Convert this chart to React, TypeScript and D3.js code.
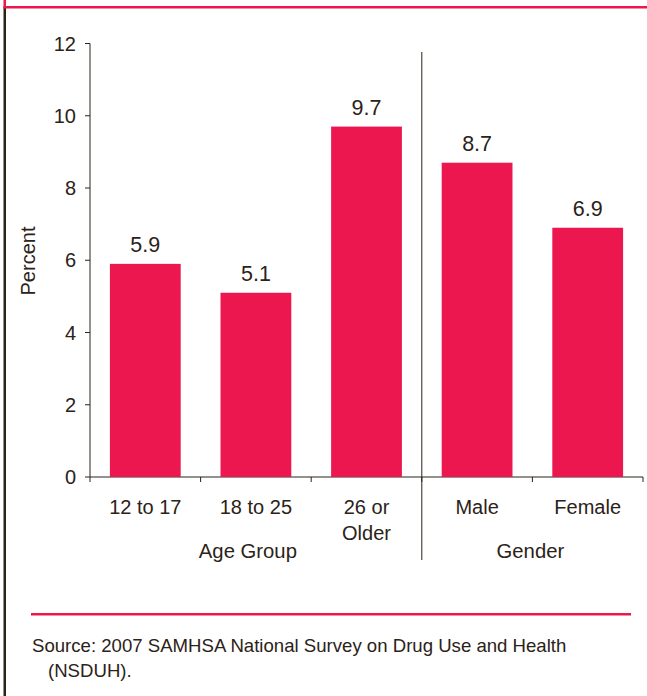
import React, { useEffect, useRef } from "react";
import * as d3 from "d3";

const categories = ["12 to 17", "18 to 25", "26 or\nOlder", "Male", "Female"];
const values = [5.9, 5.1, 9.7, 8.7, 6.9];
const yTicks = [0, 2, 4, 6, 8, 10, 12];
const groups = [
  { name: "Age Group", from: 0, to: 3, shift: -8 },
  { name: "Gender", from: 3, to: 5, shift: -2 },
];
const sourceLines = [
  "Source: 2007 SAMHSA National Survey on Drug Use and Health",
  "(NSDUH).",
];

const W = 647;
const H = 696;
const PINK = "#ec174f";
const INK = "#2b2218";
const FONT = "'Liberation Sans', Arial, Helvetica, sans-serif";

export default function App() {
  const ref = useRef<SVGSVGElement>(null);

  useEffect(() => {
    const svg = d3.select(ref.current);
    svg.selectAll("*").remove();

    const x0 = 90, x1 = 643;
    const y = d3.scaleLinear().domain([0, 12]).range([477, 43.5]);
    const x = d3
      .scaleBand<number>()
      .domain(d3.range(categories.length))
      .range([x0, x1])
      .paddingInner(0.36)
      .paddingOuter(0.18);
    const step = (x1 - x0) / categories.length;
    const edge = (i: number) => x0 + i * step;

    // frame
    svg.append("rect").attr("x", 3.5).attr("y", 7).attr("width", 2.5).attr("height", H - 7).attr("fill", INK);
    svg.append("rect").attr("x", 3.5).attr("y", 0).attr("width", 2.5).attr("height", 8).attr("fill", PINK);
    svg.append("rect").attr("x", 3.5).attr("y", 6).attr("width", W - 3.5).attr("height", 2.5).attr("fill", PINK);

    // y axis
    const g = svg.append("g").attr("stroke", INK).attr("stroke-width", 1);
    g.append("line").attr("x1", x0).attr("x2", x0).attr("y1", y(12)).attr("y2", y(0));
    yTicks.forEach((t) => {
      g.append("line").attr("x1", x0 - 5).attr("x2", x0).attr("y1", y(t)).attr("y2", y(t));
    });
    svg
      .append("g")
      .selectAll("text")
      .data(yTicks)
      .join("text")
      .attr("x", 76)
      .attr("y", (d) => y(d))
      .attr("dy", "0.35em")
      .attr("text-anchor", "end")
      .attr("font-size", 20)
      .attr("fill", INK)
      .attr("font-family", FONT)
      .text((d) => d);

    svg
      .append("text")
      .attr("transform", `translate(35,261) rotate(-90)`)
      .attr("text-anchor", "middle")
      .attr("font-size", 20)
      .attr("fill", INK)
      .attr("font-family", FONT)
      .text("Percent");

    // x axis
    g.append("line").attr("x1", x0).attr("x2", x1).attr("y1", y(0)).attr("y2", y(0));
    d3.range(categories.length + 1).forEach((i) => {
      g.append("line").attr("x1", edge(i)).attr("x2", edge(i)).attr("y1", y(0)).attr("y2", y(0) + 5);
    });

    // group divider
    g.append("line").attr("x1", edge(3)).attr("x2", edge(3)).attr("y1", 52).attr("y2", 560);

    // bars
    svg
      .append("g")
      .selectAll("rect")
      .data(values)
      .join("rect")
      .attr("x", (_, i) => x(i)!)
      .attr("width", x.bandwidth())
      .attr("y", (d) => y(d))
      .attr("height", (d) => y(0) - y(d))
      .attr("fill", PINK);

    // value labels
    svg
      .append("g")
      .selectAll("text")
      .data(values)
      .join("text")
      .attr("x", (_, i) => x(i)! + x.bandwidth() / 2)
      .attr("y", (d) => y(d) - 12)
      .attr("text-anchor", "middle")
      .attr("font-size", 21.5)
      .attr("fill", INK)
      .attr("font-family", FONT)
      .text((d) => d.toFixed(1));

    // category labels
    categories.forEach((c, i) => {
      const t = svg
        .append("text")
        .attr("x", x(i)! + x.bandwidth() / 2)
        .attr("y", 514)
        .attr("text-anchor", "middle")
        .attr("font-size", 20)
        .attr("fill", INK)
        .attr("font-family", FONT);
      c.split("\n").forEach((line, k) => {
        t.append("tspan")
          .attr("x", x(i)! + x.bandwidth() / 2)
          .attr("dy", k === 0 ? 0 : 26)
          .text(line);
      });
    });

    // group labels
    groups.forEach((gr) => {
      svg
        .append("text")
        .attr("x", (edge(gr.from) + edge(gr.to)) / 2 + gr.shift)
        .attr("y", 558)
        .attr("text-anchor", "middle")
        .attr("font-size", 20.3)
        .attr("fill", INK)
        .attr("font-family", FONT)
        .text(gr.name);
    });

    // source rule and note
    svg.append("rect").attr("x", 31).attr("y", 613).attr("width", 600).attr("height", 2.5).attr("fill", PINK);
    sourceLines.forEach((s, k) => {
      svg
        .append("text")
        .attr("x", k === 0 ? 32 : 48)
        .attr("y", 652 + k * 24.5)
        .attr("font-size", 18.6)
        .attr("fill", INK)
        .attr("font-family", FONT)
        .text(s);
    });
  }, []);

  return (
    <svg
      ref={ref}
      width={W}
      height={H}
      style={{ position: "absolute", left: 0, top: 0, background: "#fff" }}
    />
  );
}
